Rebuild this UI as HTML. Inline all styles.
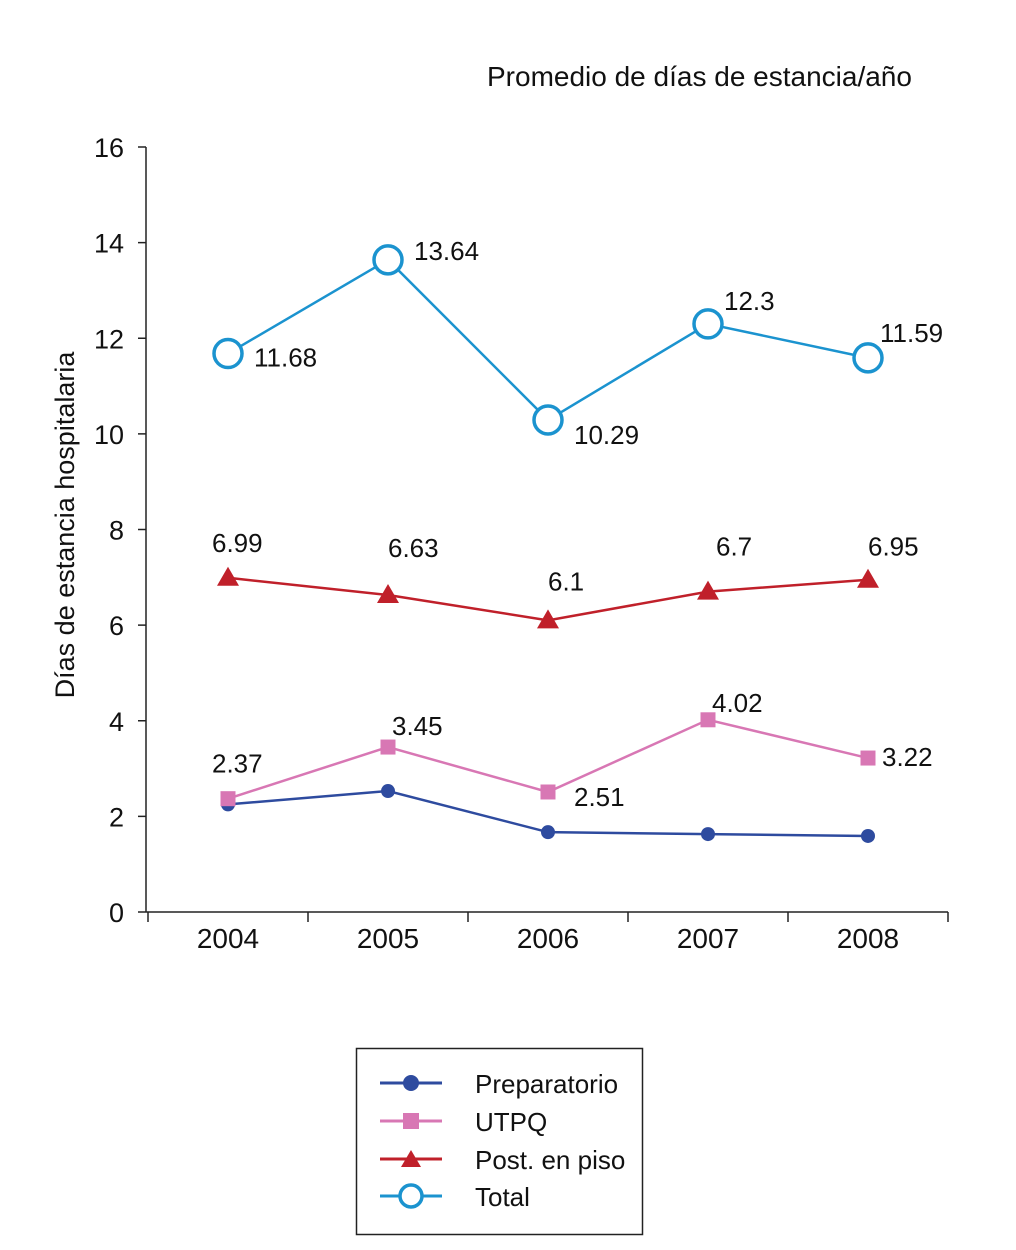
<!DOCTYPE html>
<html><head><meta charset="utf-8"><style>
body{margin:0;background:#fff;}
svg text{font-family:"Liberation Sans Narrow","Liberation Sans",sans-serif;fill:#111;}
</style></head><body>
<svg id="chart" width="1016" height="1245" xmlns="http://www.w3.org/2000/svg">
<text x="487" y="86" font-size="28">Promedio de días de estancia/año</text>
<text transform="translate(74,525) rotate(-90)" text-anchor="middle" font-size="27">Días de estancia hospitalaria</text>
<g id="axes"></g>
<g id="marks"></g>
<g>
<rect x="356.5" y="1048.5" width="286" height="186" fill="none" stroke="#222" stroke-width="1.5"/>
<g><line x1="380" y1="1083" x2="442" y2="1083" stroke="#2e4b9f" stroke-width="3"/><circle cx="411" cy="1083" r="8" fill="#2e4b9f"/><text x="475" y="1093" font-size="26">Preparatorio</text></g>
<g><line x1="380" y1="1121" x2="442" y2="1121" stroke="#d877b4" stroke-width="3"/><rect x="403" y="1113" width="16" height="16" fill="#d877b4"/><text x="475" y="1131" font-size="26">UTPQ</text></g>
<g><line x1="380" y1="1159" x2="442" y2="1159" stroke="#c0202a" stroke-width="3"/><polygon points="411,1150 421,1167 401,1167" fill="#c0202a"/><text x="475" y="1169" font-size="26">Post. en piso</text></g>
<g><line x1="380" y1="1196" x2="442" y2="1196" stroke="#1b93cf" stroke-width="3"/><circle cx="411" cy="1196" r="11" fill="#fff" stroke="#1b93cf" stroke-width="3.5"/><text x="475" y="1206" font-size="26">Total</text></g>
</g>
</svg>
<script>
const categories=["2004","2005","2006","2007","2008"];
const preparatorio=[2.25,2.53,1.67,1.63,1.59];
const utpq=[2.37,3.45,2.51,4.02,3.22];
const postPiso=[6.99,6.63,6.1,6.7,6.95];
const total=[11.68,13.64,10.29,12.3,11.59];
const yTicks=[0,2,4,6,8,10,12,14,16];
const NS="http://www.w3.org/2000/svg";
const x0=148,x1=948,y0=912,yTop=147,yMax=16;
const band=(x1-x0)/categories.length;
function xs(i){return x0+band*(i+0.5);}
function ys(v){return y0-(v/yMax)*(y0-yTop);}
function mk(tag,attrs,parent){const e=document.createElementNS(NS,tag);for(const k in attrs)e.setAttribute(k,attrs[k]);parent.appendChild(e);return e;}
const axes=document.getElementById('axes'),marks=document.getElementById('marks');
let a=mk('line',{x1:146,y1:yTop,x2:146,y2:y0,stroke:'#222','stroke-width':1.5},axes);


a=mk('line',{x1:146,y1:y0,x2:x1,y2:y0,stroke:'#222','stroke-width':1.5},axes);


yTicks.forEach(t=>{const y=ys(t);
 mk('line',{x1:138,y1:y,x2:146,y2:y,stroke:'#222','stroke-width':1.5},axes);
 const tx=mk('text',{x:124,y:y+10,'text-anchor':'end','font-size':27},axes);tx.textContent=t;
 
 });
for(let i=0;i<=categories.length;i++){const x=x0+band*i;mk('line',{x1:x,y1:y0,x2:x,y2:y0+10,stroke:'#222','stroke-width':1.5},axes);}
categories.forEach((c,i)=>{const tx=mk('text',{x:xs(i),y:948,'text-anchor':'middle','font-size':28},axes);tx.textContent=c;
 
 });
function series(vals,color,name,marker,labels,offs){
 const g=mk('g',{},marks);
 
 
 mk('polyline',{points:vals.map((v,i)=>xs(i)+','+ys(v)).join(' '),fill:'none',stroke:color,'stroke-width':2.5},g);
 vals.forEach((v,i)=>{const x=xs(i),y=ys(v);let m;
  if(marker==='circle')m=mk('circle',{cx:x,cy:y,r:7,fill:color},g);
  else if(marker==='square')m=mk('rect',{x:x-7.5,y:y-7.5,width:15,height:15,fill:color},g);
  else if(marker==='tri')m=mk('polygon',{points:`${x},${y-11} ${x+11},${y+8} ${x-11},${y+8}`,fill:color},g);
  else m=mk('circle',{cx:x,cy:y,r:14,fill:'#fff',stroke:color,'stroke-width':3.5},g);
  
  
  if(labels){const t=mk('text',{x:x+offs[i][0],y:y+offs[i][1],'font-size':26},g);t.textContent=v;
   
   }
 });
}
series(preparatorio,'#2e4b9f','preparatorio','circle',false);
series(utpq,'#d877b4','utpq','square',true,[[-16,-26],[4,-12],[26,14],[4,-8],[14,8]]);
series(postPiso,'#c0202a','post-en-piso','tri',true,[[-16,-26],[0,-38],[0,-30],[8,-36],[0,-24]]);
series(total,'#1b93cf','total','ring',true,[[26,13],[26,0],[26,24],[16,-14],[12,-16]]);
</script>
</body></html>
